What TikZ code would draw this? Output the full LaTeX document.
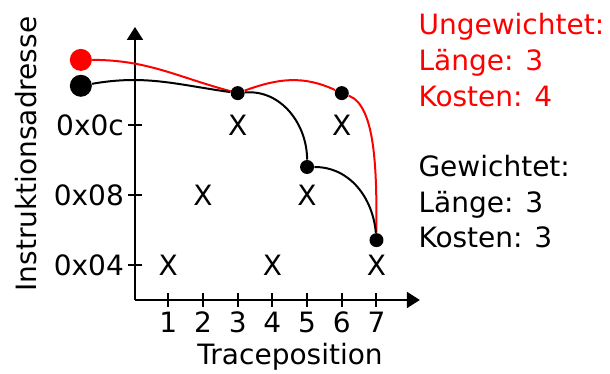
\documentclass[tikz,border=0pt]{standalone}
\usepackage{fontspec}
\setmainfont{DejaVu Sans}
\usetikzlibrary{arrows.meta}
\tikzset{
  >={Triangle[length=6.5bp,width=8bp]},
  axis/.style={line width=1bp},
  route/.style={line width=1bp},
  dot/.style={circle, fill=black, minimum size=7bp},
  bigdot/.style={circle, minimum size=11bp},
}

\begin{document}
\begin{tikzpicture}[x=17.35bp, y=17.5bp, inner sep=0pt, font=\fontsize{14bp}{17.8bp}\selectfont]
  \useasboundingbox (-3.85,-2.114) rectangle (13.73,8.571);
  % axes
  \coordinate (o) at (0.04,0);
  \coordinate (xend) at (8.25,0);
  \coordinate (yend) at (0.04,7.8);
  \draw[axis,->] (o) -- (xend);
  \draw[axis,->] (o) -- (yend);
  \foreach \i in {1,...,7} {
    \draw[axis] (\i,0.2) -- (\i,-0.2);
    \node[anchor=base] (n\i) at (\i,-0.934) {\i};
  }
  \foreach \k/\t in {1/0x04,3/0x08,5/0x0c} {
    \draw[axis] (-0.16,\k) -- (0.24,\k);
    \node[anchor=east] (a\k) at (-0.27,\k) {\t};
  }
  \node[anchor=base] (xlabel) at (4.51,-1.857) {Traceposition};
  \node[rotate=90, anchor=base] (ylabel) at (-2.8,4.17) {Instruktionsadresse};
  % trace entries
  \foreach \i/\k in {1/1,2/3,3/5,4/1,5/3,6/5,7/1}
    \node (x\i) at (\i,\k) {X};
  % paths
  \node[bigdot, fill=red] (rs) at (-1.52,6.86) {};
  \node[bigdot, fill=black] (bs) at (-1.52,6.12) {};
  \node[dot] (p3) at (3,5.91) {};
  \node[dot] (p6) at (6,5.91) {};
  \node[dot] (p5) at (5,3.8) {};
  \node[dot] (p7) at (7,1.71) {};
  \draw[route, red] (rs) to[out=0, in=165] (p3) to[out=20, in=155] (p6)
    to[out=-20, in=90, out looseness=0.55] (p7);
  \draw[route] (bs) to[out=10, in=172] (p3) to[out=5, in=90] (p5) to[out=0, in=95] (p7);
  % costs
  \node[red, anchor=base west, align=left] (uw) at (8.2,5.54) {Ungewichtet:\\Länge: 3\\Kosten: 4};
  \node[anchor=base west, align=left] (gw) at (8.2,1.486) {Gewichtet:\\Länge: 3\\Kosten: 3};
\end{tikzpicture}
\end{document}
